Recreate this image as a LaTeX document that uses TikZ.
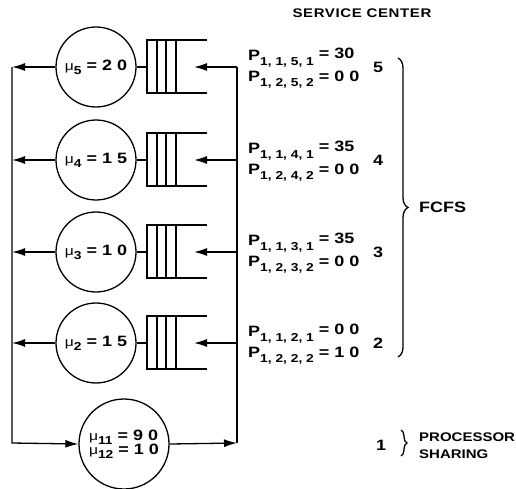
\documentclass[tikz,border=0pt]{standalone}
\usepackage{fontspec}
\setmainfont{Liberation Sans}[FakeStretch=1.2]
\usetikzlibrary{arrows.meta,decorations.pathreplacing}

\tikzset{
  server/.style={circle,draw,line width=1.3pt,minimum size=80pt,inner sep=0pt},
  flow/.style={line width=1.3pt},
  arr/.style={flow,-{Latex[length=13pt,width=8pt]}},
  lbl/.style={font=\bfseries\fontsize{15}{17}\selectfont,inner sep=0pt},
  captext/.style={font=\bfseries\fontsize{12.5}{14}\selectfont,inner sep=0pt},
  bigbrace/.style={flow,decorate,decoration={brace,amplitude=10pt}},
}
\newcommand\mulab[1]{{\fontsize{13}{13}\selectfont\mdseries μ}\raisebox{-4pt}{\fontsize{11.5}{11.5}\selectfont #1}}
\newcommand\plab[1]{P\raisebox{-5pt}{\fontsize{11.5}{11.5}\selectfont #1}}

\begin{document}
\begin{tikzpicture}[x=1pt,y=-1pt]
\useasboundingbox (0,0) rectangle (516,488);

\node[captext] (title) at (362,13) {\addfontfeatures{LetterSpace=5}SERVICE CENTER};

% FCFS service centers with their queues
\foreach \r/\y/\rate/\pa/\pb in {5/67/2 0/30/0 0, 4/160/1 5/35/0 0, 3/252/1 0/35/0 0, 2/343/1 5/0 0/1 0} {
  \node[server] (s\r) at (96,\y) {};
  \node[lbl] (m\r) at (s\r) {\mulab{\r} = \rate};
  \coordinate (q\r) at (147,\y);
  \coordinate (qtop\r) at (147,\y-27);
  \coordinate (qbot\r) at (147,\y+26);
  \draw[flow] (207,\y-27) -- (qtop\r) -- (qbot\r) -- (207,\y+26);
  \foreach \k in {157,166,176} \draw[flow] (\k,\y-27) -- (\k,\y+26);
  \draw[flow] (s\r.east) -- (q\r);
  \coordinate (tip\r) at (194,\y);
  \coordinate (rail\r) at (237,\y);
  \coordinate (lrail\r) at (12,\y);
  \draw[arr] (rail\r) -- (tip\r);
  \draw[arr] (s\r.west) -- (lrail\r);
  \node[lbl,anchor=base west] (pa\r) at (248,\y-7) {\plab{1, 1, \r, 1}\raisebox{2pt}{ = \pa}};
  \node[lbl,anchor=base west] (pb\r) at (248,\y+14) {\plab{1, 2, \r, 2} = \pb};
  \node[lbl] (n\r) at (378,\y) {\r};
}

% processor sharing center
\node[server,minimum size=90pt] (s1) at (124,444) {};
\node[lbl,align=left] (m1) at (s1) {\mulab{11} = 9 0\\[-3pt]\mulab{12} = 1 0};
\coordinate (lbot) at (12,443);
\coordinate (rbot) at (237,443);
\draw[arr] (lrail5) -- (lbot) -- (s1.west);
\draw[arr] (s1.east) -- (rbot);
\draw[flow] (rbot) -- (rail5);

% disciplines
\draw[bigbrace] (398,58) -- (398,357);
\node[lbl,anchor=west] (fcfs) at (419,207) {FCFS};
\node[lbl] (n1) at (381,445) {1};
\draw[flow,decorate,decoration={brace,amplitude=6pt}] (401,430) -- (401,456);
\node[captext,anchor=base west] (ps1) at (419,441) {PROCESSOR};
\node[captext,anchor=base west] (ps2) at (419,458) {SHARING};
\end{tikzpicture}
\end{document}
